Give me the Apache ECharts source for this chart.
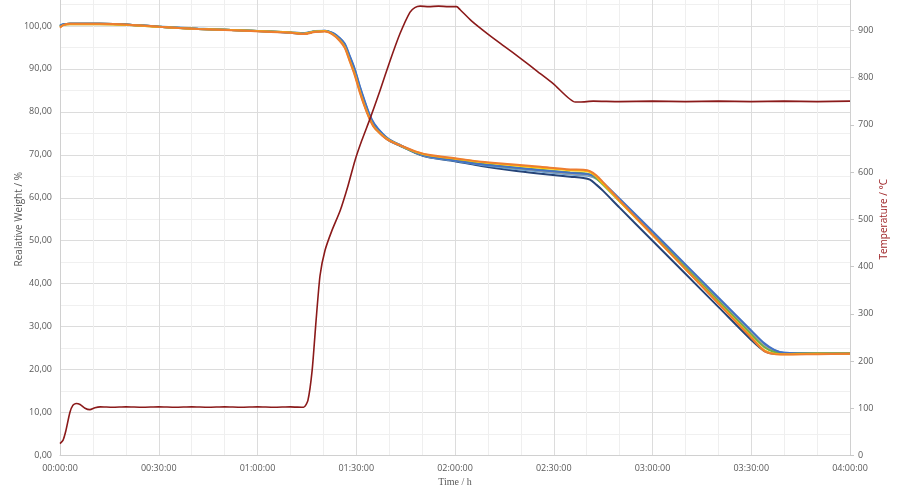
<!DOCTYPE html>
<html>
<head>
<meta charset="utf-8">
<script src="https://cdn.jsdelivr.net/npm/echarts@6/dist/echarts.min.js"></script>
<style>html,body{margin:0;padding:0;background:#fff;overflow:hidden;width:903px;height:494px;}#c{width:903px;height:511px;margin-top:-17px;}</style>
</head>
<body>
<div id="c"></div>
<script>
// Time axis tick labels (every 30 minutes)
const xTickLabels = ["00:00:00","00:30:00","01:00:00","01:30:00","02:00:00","02:30:00","03:00:00","03:30:00","04:00:00"];

// Weight sample times (minutes)
const wTime = [0,1,3,12,21,30,42,58,70,74,77.5,80.5,83,85,86.5,88,89.5,91,92.5,94,95.5,98,100,103,108,112,120,128,137,146,155,159,161,163,165,170,180,190,200,210,214,217,220,230,240];

const wDarkBlue = [100.0,100.3,100.5,100.5,100.3,99.8,99.3,98.9,98.4,98.2,98.7,98.8,98.1,96.8,95.3,92.3,89.1,85.2,81.7,78.7,76.5,74.5,73.3,72.2,70.4,69.4,68.5,67.4,66.4,65.6,64.9,64.6,64.2,63.0,61.6,57.7,50.0,42.3,34.6,26.9,24.3,23.7,23.7,23.7,23.7];
const wLightBlue = [100.0,100.4,100.5,100.5,100.3,99.9,99.4,98.9,98.5,98.3,98.8,98.9,98.3,97.1,95.7,92.9,89.9,86.0,82.5,79.3,77.0,74.8,73.5,72.3,70.5,69.5,68.6,67.6,66.8,66.1,65.4,65.2,65.0,64.4,63.2,59.6,52.0,44.3,36.6,28.9,25.9,24.5,23.9,23.8,23.8];
const wGray = [99.8,100.3,100.4,100.4,100.2,99.8,99.3,98.9,98.5,98.2,98.7,98.8,98.2,97.0,95.6,92.7,89.6,85.8,82.3,79.2,76.9,74.8,73.5,72.4,70.6,69.6,68.8,67.8,67.0,66.3,65.6,65.4,65.2,64.5,63.2,59.5,51.8,44.1,36.3,28.5,25.5,24.3,23.8,23.8,23.8];
const wGreen = [99.9,100.3,100.5,100.5,100.3,99.8,99.3,98.9,98.5,98.2,98.7,98.8,98.1,96.9,95.4,92.5,89.4,85.5,82.0,79.0,76.8,74.7,73.4,72.3,70.6,69.7,68.8,67.9,67.1,66.5,65.9,65.7,65.4,64.5,63.0,59.2,51.5,43.8,36.0,28.2,25.2,24.1,23.8,23.8,23.8];
const wBlue = [100.1,100.4,100.5,100.5,100.3,99.8,99.3,98.9,98.5,98.3,98.7,98.9,98.3,97.2,95.9,93.1,90.1,86.2,82.7,79.5,77.2,74.9,73.6,72.4,70.6,69.6,68.7,67.8,67.1,66.4,65.8,65.6,65.4,64.8,63.5,59.8,52.2,44.5,36.8,29.1,26.1,24.6,23.9,23.7,23.7];
const wGold = [99.7,100.2,100.4,100.4,100.2,99.8,99.3,98.9,98.5,98.2,98.7,98.8,98.0,96.7,95.1,92.0,88.9,85.0,81.5,78.6,76.4,74.5,73.4,72.3,70.7,69.9,69.1,68.3,67.6,67.0,66.4,66.3,66.0,64.9,63.3,59.2,51.3,43.4,35.5,27.6,24.5,23.7,23.6,23.7,23.7];
const wOrange = [99.6,100.2,100.5,100.5,100.3,99.8,99.3,98.8,98.4,98.1,98.6,98.7,97.9,96.5,94.9,91.8,88.6,84.7,81.3,78.4,76.3,74.4,73.3,72.3,70.8,70.0,69.2,68.4,67.8,67.2,66.6,66.5,66.2,65.2,63.6,59.4,51.4,43.4,35.4,27.4,24.3,23.6,23.5,23.6,23.7];

// Temperature (°C) vs time (minutes)
const tTime = [0,0.9,1.8,3.0,3.9,4.9,6.1,7.6,9.1,10.6,12.2,16,20,25,30,35,40,45,50,55,60,65,70,74,75.3,76.6,77.8,79,80.5,82.6,85.1,87.5,89.6,91.7,94.2,97.2,100.3,103.3,106.3,107.8,109.4,112,115,118,120.5,121.5,125,130,135,140,145,150,156.5,158,162,170,180,190,200,210,220,230,240];
const tVals = [25,32,53,91,106,110,108,100,97,101,103,102,103,102,103,102,103,102,103,102,103,102,103,102,116,180,286,381,434,476,518,571,624,667,713,772,836,893,938,948,951,950,951,950,950,944,920,892,866,840,813,786,748,748,750,749,750,749,750,749,750,749,750];

const wSeries = [
  {name:"S7", data:wDarkBlue, color:"#264478"},
  {name:"S5", data:wLightBlue, color:"#5B9BD5"},
  {name:"S3", data:wGray, color:"#A5A5A5"},
  {name:"S6", data:wGreen, color:"#70AD47"},
  {name:"S1", data:wBlue, color:"#4472C4"},
  {name:"S4", data:wGold, color:"#FFC000"},
  {name:"S2", data:wOrange, color:"#ED7D31"}
];

const zip = (xs, ys) => xs.map((x, i) => [x, ys[i]]);

const chart = echarts.init(document.getElementById("c"), null, {renderer: "canvas"});
const labelStyle = {color: "#595959", fontSize: 9, fontFamily: "Open Sans, sans-serif"};

const series = wSeries.map(s => ({
  name: s.name, type: "line", yAxisIndex: 0, showSymbol: false, smooth: 0.3,
  data: zip(wTime, s.data), lineStyle: {width: 2, color: s.color}, itemStyle: {color: s.color}
}));
series.push({
  name: "Temperature", type: "line", yAxisIndex: 1, showSymbol: false, smooth: 0.2,
  data: zip(tTime, tVals), lineStyle: {width: 1.6, color: "#8B1A1A"}, itemStyle: {color: "#8B1A1A"}
});

chart.setOption({
  backgroundColor: "#fff",
  animation: false,
  grid: {left: 60, right: 53, top: 0, bottom: 38.5, outerBoundsMode: "none", containLabel: false},
  xAxis: {
    type: "value", min: 0, max: 240, interval: 30,
    name: "Time / h", nameLocation: "middle", nameGap: 22, nameMoveOverlap: false,
    nameTextStyle: {color: "#595959", fontSize: 10, fontFamily: "Liberation Serif, serif"},
    axisLine: {show: true, lineStyle: {color: "#d0d0d0"}},
    axisTick: {show: false},
    axisLabel: Object.assign({}, labelStyle, {margin: 8, formatter: v => xTickLabels[Math.round(v / 30)]}),
    splitLine: {show: true, lineStyle: {color: "#dcdcdc", width: 1}},
    minorTick: {show: false, splitNumber: 3},
    minorSplitLine: {show: true, lineStyle: {color: "#efefef", width: 1}}
  },
  yAxis: [
    {
      type: "value", min: 0, max: 110, interval: 10, position: "left",
      name: "Realative Weight / %", nameLocation: "middle", nameGap: 36, nameRotate: 90, nameMoveOverlap: false,
      nameTextStyle: {color: "#595959", fontSize: 10, fontFamily: "Open Sans, sans-serif"},
      axisLine: {show: true, lineStyle: {color: "#d0d0d0"}},
      axisTick: {show: false},
      axisLabel: Object.assign({}, labelStyle, {margin: 8, showMaxLabel: false, formatter: v => v.toFixed(2).replace(".", ",")}),
      splitLine: {show: true, lineStyle: {color: "#dcdcdc", width: 1}},
      minorTick: {show: false, splitNumber: 2},
      minorSplitLine: {show: true, lineStyle: {color: "#f0f0f0", width: 1}}
    },
    {
      type: "value", min: 0, max: 1000, interval: 100, position: "right",
      name: "Temperature / °C", nameLocation: "middle", nameGap: 29, nameRotate: 90, nameMoveOverlap: false,
      nameTextStyle: {color: "#A0272A", fontSize: 10, fontFamily: "Open Sans, sans-serif"},
      axisLine: {show: true, lineStyle: {color: "#d0d0d0"}},
      axisTick: {show: true, inside: false, length: 4, lineStyle: {color: "#c8c8c8"}},
      axisLabel: Object.assign({}, labelStyle, {margin: 8, showMaxLabel: false}),
      splitLine: {show: false}
    }
  ],
  series: series
});
</script>
</body>
</html>
